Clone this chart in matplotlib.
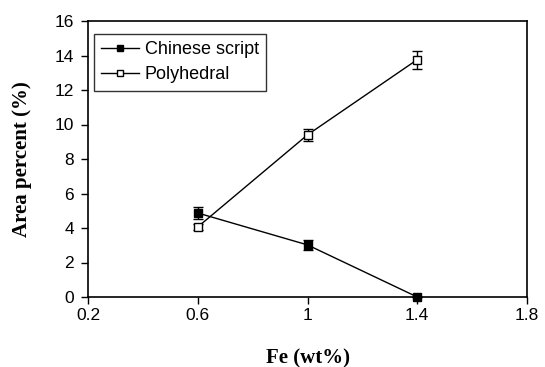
import numpy as np
import matplotlib.pyplot as plt
from matplotlib.lines import Line2D

fe = [0.6, 1.0, 1.4]
chinese = [4.87, 3.02, 0.0]
chinese_err = [0.35, 0.28, 0.0]
poly = [4.06, 9.40, 13.76]
poly_err = [0.2, 0.35, 0.52]

plt.rcParams['font.family'] = ['Liberation Sans', 'DejaVu Sans']

fig = plt.figure(figsize=(5.45, 3.67), dpi=100)
ax = fig.add_axes([88 / 545, 1 - 297 / 367, (527 - 88) / 545, (297 - 21) / 367])

ax.errorbar(fe, chinese, yerr=chinese_err, color='black', marker='s', ms=5.5,
            mfc='black', mec='black', lw=1, capsize=3.3, elinewidth=1,
            clip_on=False, zorder=3)
ax.errorbar(fe, poly, yerr=poly_err, color='black', marker='s', ms=5.5,
            mfc='white', mec='black', lw=1, capsize=3.3, elinewidth=1)

ax.set_xlim(0.2, 1.8)
ax.set_ylim(0, 16)
ax.set_xticks([0.2, 0.6, 1.0, 1.4, 1.8])
ax.set_xticklabels(['0.2', '0.6', '1', '1.4', '1.8'])
ax.set_yticks(np.arange(0, 17, 2))
ax.tick_params(direction='out', length=5, width=1, labelsize=12.5)
ax.tick_params(axis='y', pad=5)
ax.tick_params(axis='x', pad=3)
for s in ax.spines.values():
    s.set_linewidth(1.2)

ax.set_xlabel('Fe (wt%)', family='Liberation Serif', fontweight='bold', fontsize=15)
ax.set_ylabel('Area percent (%)', family='Liberation Serif', fontweight='bold', fontsize=15)
ax.xaxis.set_label_coords(0.5, -0.185)
ax.yaxis.set_label_coords(-0.128, 0.5)

handles = [
    Line2D([], [], color='black', lw=1, marker='s', ms=5, mfc='black', mec='black'),
    Line2D([], [], color='black', lw=1, marker='s', ms=5, mfc='white', mec='black'),
]
leg = ax.legend(handles, ['Chinese script', 'Polyhedral'], loc='upper left',
                bbox_to_anchor=(0.0137, 0.953), fontsize=13,
                frameon=True, fancybox=False, edgecolor='black', handlelength=2.1,
                borderpad=0.4, labelspacing=0.45, handletextpad=0.3, borderaxespad=0)
leg.get_frame().set_linewidth(1)

fig.savefig('out.png', dpi=100)
